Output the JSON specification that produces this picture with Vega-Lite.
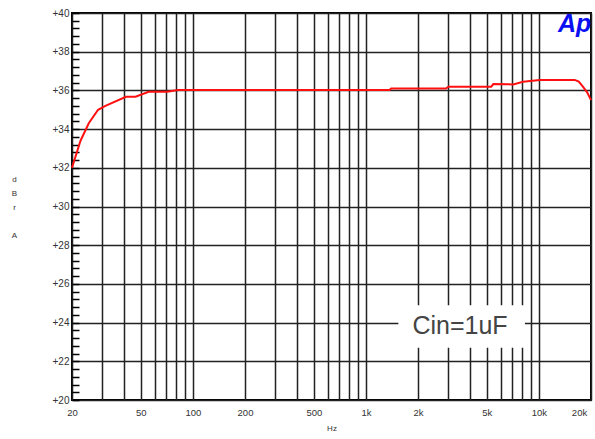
{
  "$schema": "https://vega.github.io/schema/vega-lite/v6.json",
  "autosize": "none",
  "width": 519,
  "height": 387,
  "padding": {"left": 72, "top": 13, "right": 4, "bottom": 39},
  "background": "white",
  "config": {
    "view": {"stroke": "#000", "strokeWidth": 2},
    "font": "Liberation Sans"
  },
  "datasets": {
    "curve": [
      {"f": 20, "db": 32.0},
      {"f": 22.4, "db": 33.4},
      {"f": 25, "db": 34.3},
      {"f": 28.3, "db": 35.0},
      {"f": 31.2, "db": 35.2},
      {"f": 41, "db": 35.67},
      {"f": 46.6, "db": 35.67},
      {"f": 55.5, "db": 35.93},
      {"f": 71, "db": 35.93},
      {"f": 82, "db": 36.02},
      {"f": 1370, "db": 36.02},
      {"f": 1400, "db": 36.1},
      {"f": 2900, "db": 36.1},
      {"f": 3000, "db": 36.19},
      {"f": 5300, "db": 36.19},
      {"f": 5450, "db": 36.33},
      {"f": 7100, "db": 36.31},
      {"f": 8100, "db": 36.45},
      {"f": 10100, "db": 36.54},
      {"f": 16100, "db": 36.54},
      {"f": 17000, "db": 36.45},
      {"f": 17950, "db": 36.19},
      {"f": 19000, "db": 35.9},
      {"f": 20000, "db": 35.5}
    ],
    "box": [{"f": 1540, "f2": 8300, "db": 24.9, "db2": 22.7}],
    "note": [{"f": 3500, "db": 23.8, "label": "Cin=1uF"}],
    "logo": [{"f": 16100, "db": 39.0, "label": "Ap"}]
  },
  "layer": [
    {
      "data": {"name": "curve"},
      "mark": {"type": "line", "color": "#ff1010", "strokeWidth": 2},
      "encoding": {
        "x": {
          "field": "f", "type": "quantitative",
          "scale": {"type": "log", "domain": [20, 20000], "nice": false},
          "axis": {
            "title": "Hz",
            "titleFontSize": 8, "titleFontWeight": "normal", "titleColor": "#333", "titlePadding": 8,
            "tickCount": 200,
            "values": [20,30,40,50,60,70,80,90,100,200,300,400,500,600,700,800,900,1000,2000,3000,4000,5000,6000,7000,8000,9000,10000,20000],
            "labelExpr": "indexof([20,50,100,200,500],datum.value)>=0 ? ''+datum.value : (indexof([1000,2000,5000,10000,20000],datum.value)>=0 ? (datum.value/1000)+'k' : '')",
            "labelOverlap": false,
            "labelFlush": false,
            "labelFontSize": 9.5,
            "labelColor": "#333",
            "labelPadding": 7,
            "labelOffset": {"condition": {"test": "datum.value >= 20000", "value": -12}, "value": 0},
            "ticks": false,
            "domain": false,
            "grid": true,
            "gridColor": "#222",
            "gridWidth": 1.5
          }
        },
        "y": {
          "field": "db", "type": "quantitative",
          "scale": {"domain": [20, 40], "nice": false, "zero": false},
          "axis": {
            "title": ["d", "B", "r", "\u200b", "A"],
            "titleAngle": 0,
            "titleFontSize": 8, "titleFontWeight": "normal", "titleColor": "#333",
            "titleLineHeight": 14,
            "titleAlign": "center",
            "titleBaseline": "top",
            "titleX": -58,
            "titleY": 162,
            "tickCount": 200,
            "values": [20,20.4,20.8,21.2,21.6,22,22.4,22.8,23.2,23.6,24,24.4,24.8,25.2,25.6,26,26.4,26.8,27.2,27.6,28,28.4,28.8,29.2,29.6,30,30.4,30.8,31.2,31.6,32,32.4,32.8,33.2,33.6,34,34.4,34.8,35.2,35.6,36,36.4,36.8,37.2,37.6,38,38.4,38.8,39.2,39.6,40],
            "labelExpr": "abs(datum.value - 2*round(datum.value/2)) < 0.01 ? '+' + round(datum.value) : ''",
            "labelOverlap": false,
            "labelFlush": false,
            "labelFontSize": 10,
            "labelColor": "#333",
            "labelPadding": 10,
            "ticks": true,
            "tickSize": -7,
            "tickColor": "#000",
            "tickWidth": 1.5,
            "domain": false,
            "grid": true,
            "gridColor": "#222",
            "gridWidth": 1.5,
            "gridOpacity": {"condition": {"test": "abs(datum.value - 2*round(datum.value/2)) < 0.01", "value": 1}, "value": 0}
          }
        }
      }
    },
    {
      "data": {"name": "box"},
      "mark": {"type": "rect", "fill": "white"},
      "encoding": {
        "x": {"field": "f", "type": "quantitative"},
        "x2": {"field": "f2"},
        "y": {"field": "db", "type": "quantitative"},
        "y2": {"field": "db2"}
      }
    },
    {
      "data": {"name": "note"},
      "mark": {"type": "text", "fontSize": 25, "color": "#444", "align": "center", "baseline": "middle", "font": "Liberation Sans"},
      "encoding": {
        "x": {"field": "f", "type": "quantitative"},
        "y": {"field": "db", "type": "quantitative"},
        "text": {"field": "label"}
      }
    },
    {
      "data": {"name": "logo"},
      "mark": {"type": "text", "fontSize": 25, "fontStyle": "italic", "fontWeight": "bold", "color": "#0a10f0", "align": "center", "baseline": "alphabetic", "font": "Liberation Sans"},
      "encoding": {
        "x": {"field": "f", "type": "quantitative"},
        "y": {"field": "db", "type": "quantitative"},
        "text": {"field": "label"}
      }
    }
  ]
}
